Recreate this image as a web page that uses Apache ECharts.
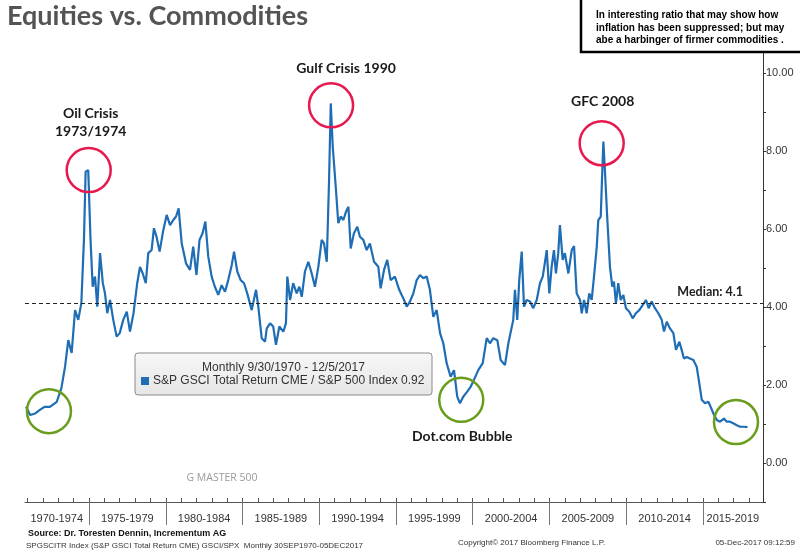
<!DOCTYPE html>
<html><head><meta charset="utf-8">
<script src="https://cdn.jsdelivr.net/npm/echarts@6.0.0/dist/echarts.min.js"></script>
<style>html,body{margin:0;padding:0;background:#fff}#c{width:800px;height:553px}</style>
</head><body><div id="c"></div>
<script>
// ---- data (decimal year, ratio) ----
const years = [
1970.9,1971.16,1971.5,1971.8,1972.1,1972.45,1972.9,1973.2,1973.44,1973.65,1973.87,1974.09,1974.3,1974.5,1974.67,1974.78,1974.95,
1975.1,1975.24,1975.39,1975.54,1975.72,1975.9,1976.04,1976.19,1976.37,1976.58,1976.8,1977.0,1977.23,1977.46,1977.67,1977.9,
1978.14,1978.32,1978.5,1978.7,1978.86,1979.08,1979.23,1979.4,1979.6,1979.84,1980.06,1980.28,1980.49,1980.67,1980.84,
1981.04,1981.32,1981.58,1981.79,1982.0,1982.2,1982.4,1982.58,1982.77,1982.99,1983.2,1983.42,1983.64,1983.86,
1984.07,1984.3,1984.45,1984.66,1984.88,1985.1,1985.31,1985.6,1985.88,1986.03,1986.25,1986.47,
1986.58,1986.8,1987.0,1987.18,1987.4,1987.66,1987.83,1987.92,1988.1,1988.3,1988.53,1988.7,1988.86,1989.07,1989.29,1989.51,
1989.72,1989.94,1990.16,1990.31,1990.49,1990.64,1990.75,1990.88,1991.09,1991.24,1991.4,1991.57,1991.74,1991.9,1992.05,
1992.26,1992.48,1992.65,1992.87,1993.09,1993.3,1993.57,1993.85,1994.0,1994.22,1994.43,1994.65,1994.93,1995.21,1995.48,
1995.7,1995.91,1996.13,1996.35,1996.56,1996.78,1997.0,1997.21,1997.43,1997.65,1997.87,1998.08,1998.3,1998.56,1998.78,
1998.99,1999.17,1999.38,1999.64,1999.87,2000.08,2000.36,2000.65,2000.91,2001.12,2001.34,2001.6,2001.82,2002.1,2002.32,
2002.64,2002.75,2002.9,2003.03,2003.19,2003.34,2003.51,2003.73,2003.94,2004.17,2004.38,2004.56,2004.66,2004.82,2004.99,
2005.14,2005.29,2005.42,2005.57,2005.68,2005.86,2006.0,2006.23,2006.45,2006.6,2006.77,2006.99,2007.1,2007.25,2007.42,
2007.59,2007.75,2007.9,2008.08,2008.18,2008.34,2008.42,2008.51,2008.62,2008.77,2008.94,2009.09,2009.2,2009.33,2009.48,
2009.64,2009.81,2009.98,2010.2,2010.42,2010.63,2010.85,2011.07,2011.29,2011.46,2011.66,2011.87,2012.09,2012.31,2012.46,
2012.64,2012.85,2013.07,2013.24,2013.46,2013.61,2013.76,2013.94,2014.15,2014.37,2014.59,2014.76,2014.92,2015.13,2015.35,
2015.5,2015.68,2015.9,2016.11,2016.37,2016.54,2016.76,2016.97,2017.2,2017.41,2017.63,2017.9
];
const ratio = [
1.44,1.23,1.27,1.36,1.44,1.44,1.57,1.92,2.47,3.15,2.82,3.92,3.67,4.1,5.72,7.47,7.51,
5.72,4.52,4.78,4.01,5.38,4.61,4.35,3.84,4.18,3.67,3.24,3.33,3.67,3.88,3.37,3.84,
4.61,5.03,4.86,4.61,5.38,5.46,6.02,5.8,5.42,5.97,6.36,6.10,6.23,6.32,6.53,
5.63,5.12,4.95,5.55,4.82,5.72,5.89,6.19,5.29,4.78,4.52,4.31,4.56,4.39,
4.69,5.08,5.42,4.91,4.69,4.61,4.35,3.92,4.44,4.01,3.2,3.11,
3.45,3.58,3.5,3.03,3.5,3.37,3.58,4.78,4.18,4.61,4.35,4.52,4.26,4.91,5.16,4.86,
4.52,5.03,5.72,5.63,5.16,7.26,9.22,8.11,7.0,6.15,6.32,6.23,6.44,6.57,5.5,
5.89,6.06,5.8,5.72,5.46,5.63,5.16,5.03,4.48,4.95,5.21,4.69,4.78,4.44,4.22,
4.01,4.14,4.35,4.69,4.82,4.74,4.78,4.44,3.75,3.92,3.33,3.07,2.56,2.21,2.38,
1.70,1.53,1.70,1.83,1.96,2.13,2.38,2.56,3.2,3.07,3.2,3.15,2.64,2.51,3.07,
3.67,4.44,3.67,4.69,5.42,4.01,4.18,4.14,3.97,4.18,4.61,4.78,5.03,5.46,4.35,
5.03,5.46,4.86,5.38,6.10,5.21,5.38,4.86,5.46,5.56,4.35,4.18,3.84,4.18,3.84,
4.35,4.18,4.78,5.55,6.23,6.32,7.26,8.24,7.43,6.23,5.03,4.52,4.65,4.09,4.61,
4.18,4.31,3.97,3.88,3.71,3.84,3.92,4.05,4.18,3.97,4.14,3.97,3.84,3.67,3.37,
3.62,3.45,3.33,2.9,3.11,2.9,2.68,2.72,2.68,2.64,2.47,2.04,1.62,1.53,1.57,
1.44,1.27,1.10,1.06,1.14,1.06,1.06,1.02,0.97,0.93,0.93,0.92
];
const seriesName = 'S&P GSCI Total Return CME / S&P 500 Index 0.92';
const yearTicks = [1971,1972,1973,1974,1975,1976,1977,1978,1979,1980,1981,1982,1983,1984,1985,1986,1987,1988,1989,1990,1991,1992,1993,1994,1995,1996,1997,1998,1999,2000,2001,2002,2003,2004,2005,2006,2007,2008,2009,2010,2011,2012,2013,2014,2015,2016,2017,2018];
const groupBreaks = [1975,1980,1985,1990,1995,2000,2005,2010,2015];
const groupLabelAt = [1972.9,1977.5,1982.5,1987.5,1992.5,1997.5,2002.5,2007.5,2012.5,2016.95];
const groupLabels = ['1970-1974','1975-1979','1980-1984','1985-1989','1990-1994','1995-1999','2000-2004','2005-2009','2010-2014','2015-2019'];
const xMin = 1970.83, xMax = 2018.91;
const median = 4.1;
const lastValue = 0.92;
// highlighted episodes: label, centre year, centre value
const markNames  = ['Oil Crisis\n1973/1974','Gulf Crisis 1990','GFC 2008','Dot.com Bubble','',''];
const markYears  = [1974.98,1990.77,2008.40,1999.25,1972.39,2017.15];
const markValues = [7.51,9.17,8.20,1.62,1.33,1.05];

const RED = '#e8194f', GREEN = '#6a9c1e', BLUE = '#1f6db4';
const markStyle = [
  {c: RED,   pos: 'top',    dist: 6,  off: [2, 0]},
  {c: RED,   pos: 'top',    dist: 5,  off: [15, 0]},
  {c: RED,   pos: 'top',    dist: 9,  off: [1, 0]},
  {c: GREEN, pos: 'bottom', dist: 4,  off: [1, 0]},
  {c: GREEN, pos: 'top',    dist: 0,  off: [0, 0]},
  {c: GREEN, pos: 'top',    dist: 0,  off: [0, 0]}
];

const chart = echarts.init(document.getElementById('c'));
const FONT = 'Liberation Sans';
chart.setOption({
  animation: false,
  backgroundColor: '#fff',
  textStyle: {fontFamily: FONT},
  grid: {left: 25, right: 37, top: 14.5, bottom: 51, containLabel: false},
  legend: {
    show: true, left: 141, top: 375, padding: 0, itemWidth: 8, itemHeight: 8, icon: 'rect',
    selectedMode: false, itemGap: 4,
    textStyle: {fontSize: 12, color: '#333', fontFamily: FONT, padding: [0, 0, 0, -1]},
    data: [seriesName]
  },
  xAxis: [{
    type: 'value', min: xMin, max: xMax, position: 'bottom',
    axisLine: {show: true, onZero: false, lineStyle: {color: '#555', width: 1}},
    axisTick: {show: true, inside: true, length: 4, customValues: yearTicks, lineStyle: {color: '#555'}},
    axisLabel: {
      show: true, customValues: groupLabelAt, margin: 11, fontSize: 11, color: '#333', fontFamily: FONT,
      formatter: function (v) {
        let best = 0, d = 1e9;
        groupLabelAt.forEach(function (g, i) { if (Math.abs(g - v) < d) { d = Math.abs(g - v); best = i; } });
        return groupLabels[best];
      }
    },
    splitLine: {show: false}
  }, {
    type: 'value', min: xMin, max: xMax, position: 'bottom',
    axisLine: {show: false, onZero: false},
    axisTick: {show: true, inside: false, length: 23, customValues: groupBreaks, lineStyle: {color: '#777'}},
    axisLabel: {show: false},
    splitLine: {show: false}
  }],
  yAxis: {
    type: 'value', position: 'right', min: -1, max: 11.5, interval: 1,
    axisLine: {show: true, onZero: false, lineStyle: {color: '#333', width: 1}},
    axisTick: {show: true, length: 3, lineStyle: {color: '#333'}},
    axisLabel: {
      margin: 3, fontSize: 11, color: '#333', fontFamily: FONT,
      formatter: function (v) { return (v >= 0 && v <= 10 && Math.abs(v % 2) < 1e-9) ? v.toFixed(2) : ''; }
    },
    splitLine: {show: false}
  },
  series: [{
    name: seriesName, type: 'line', xAxisIndex: 0, yAxisIndex: 0,
    data: years.map(function (y, i) { return [y, ratio[i]]; }),
    showSymbol: false, symbol: 'none', smooth: false,
    lineStyle: {color: BLUE, width: 2.2}, itemStyle: {color: BLUE},
    markLine: {
      silent: true, symbol: 'none', animation: false,
      data: [
        {yAxis: median, lineStyle: {type: [4, 3], color: '#222', width: 1.2},
         label: {show: true, position: 'insideEndTop', distance: [20, 5], formatter: 'Median: 4.1',
                 fontFamily: 'Lato', fontWeight: 'bold', fontSize: 12.5, color: '#222'}},
        {yAxis: lastValue, lineStyle: {width: 0, opacity: 0},
         label: {show: true, position: 'end', distance: 4, formatter: lastValue.toFixed(2),
                 backgroundColor: BLUE, color: '#fff', padding: [3, 6, 2, 5], fontSize: 11.5, fontFamily: FONT}}
      ]
    },
    markPoint: {
      silent: true, animation: false,
      data: markNames.map(function (n, i) {
        const s = markStyle[i];
        return {
          coord: [markYears[i], markValues[i]], symbol: 'circle', symbolSize: 44,
          itemStyle: {color: 'rgba(0,0,0,0)', borderColor: s.c, borderWidth: 2.5},
          label: {show: n !== '', formatter: n, position: s.pos, distance: s.dist, offset: s.off,
                  fontFamily: 'Lato', fontWeight: 'bold', fontSize: 14, lineHeight: 18, color: '#1a1a1a', align: 'center'}
        };
      })
    }
  }],
  graphic: [
    {type: 'text', left: 7, top: 3, style: {text: 'Equities vs. Commodities', font: 'bold 27px Lato', fill: '#545454'}},
    {type: 'rect', shape: {x: 581, y: -5, width: 230, height: 57}, style: {fill: '#fff', stroke: '#000', lineWidth: 2.5}, z: 100},
    {type: 'text', x: 596, y: 9, z: 101, style: {text: 'In interesting ratio that may show how\ninflation has been suppressed; but may\nabe a harbinger of firmer commodities .', font: 'bold 10px "Liberation Sans"', lineHeight: 12.5, fill: '#000', verticalAlign: 'top'}},
    {type: 'rect', shape: {x: 135, y: 353, width: 297, height: 42, r: 3}, z: 0,
     style: {fill: new echarts.graphic.LinearGradient(0, 0, 0, 1, [{offset: 0, color: '#f7f7f7'}, {offset: 1, color: '#e6e6e6'}]), stroke: '#8a8a8a', lineWidth: 1}},
    {type: 'text', x: 283.5, y: 368, z: 1, style: {text: 'Monthly 9/30/1970 - 12/5/2017', font: '12px "Liberation Sans"', fill: '#333', align: 'center', verticalAlign: 'middle'}},
    {type: 'text', x: 222, y: 478, style: {text: 'G MASTER 500', font: '10.5px "Open Sans"', fill: '#9a9a9a', align: 'center', verticalAlign: 'middle'}},
    {type: 'text', x: 28, y: 534, style: {text: 'Source: Dr. Toresten Dennin, Incrementum AG', font: 'bold 9px "Liberation Sans"', fill: '#111', verticalAlign: 'middle'}},
    {type: 'text', x: 26, y: 546, style: {text: 'SPGSCITR Index (S&P GSCI Total Return CME) GSCI/SPX  Monthly 30SEP1970-05DEC2017', font: '8px "Liberation Sans"', fill: '#333', verticalAlign: 'middle'}},
    {type: 'text', x: 458, y: 543, style: {text: 'Copyright\u00a9 2017 Bloomberg Finance L.P.', font: '8px "Liberation Sans"', fill: '#333', verticalAlign: 'middle'}},
    {type: 'text', x: 795, y: 543, style: {text: '05-Dec-2017 09:12:59', font: '8px "Liberation Sans"', fill: '#333', align: 'right', verticalAlign: 'middle'}}
  ]
});
</script></body></html>
